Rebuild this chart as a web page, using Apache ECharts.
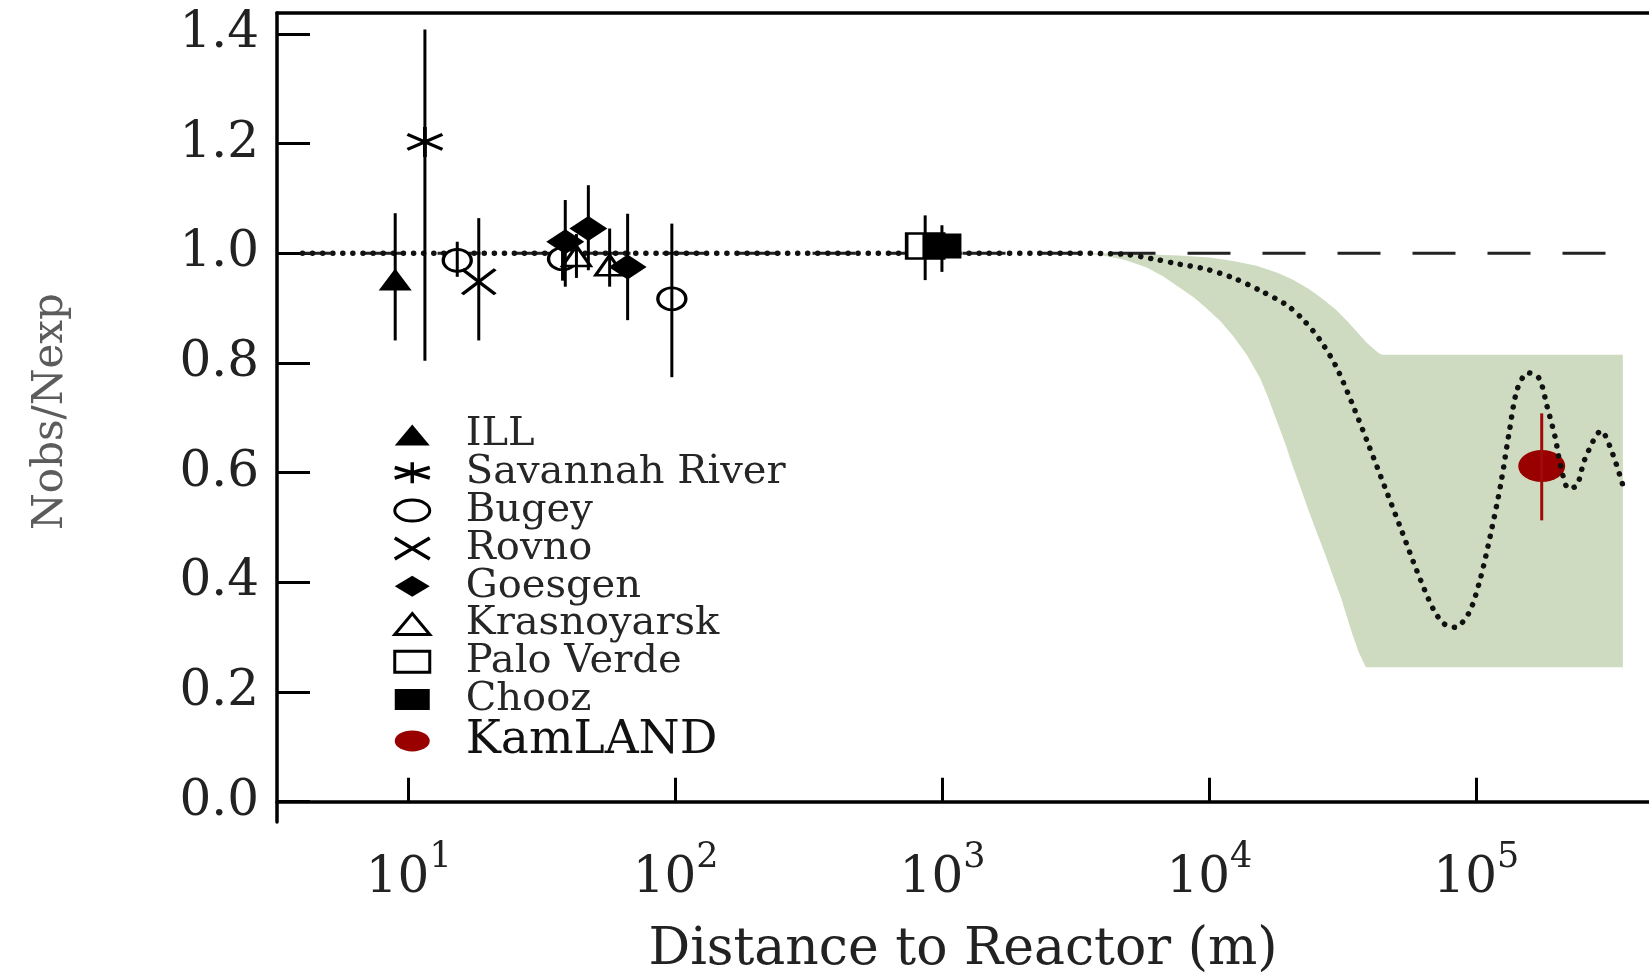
<!DOCTYPE html>
<html><head><meta charset="utf-8">
<script src="https://cdn.jsdelivr.net/npm/echarts@6/dist/echarts.min.js"></script>
<style>html,body{margin:0;padding:0;background:#fff}#c{width:1649px;height:973px}</style>
</head><body><div id="c"></div>
<script>
// ---- tick labels ----
const xTickValues = [10, 100, 1000, 10000, 100000];
const xTickBase = ['10', '10', '10', '10', '10'];
const xTickExp = ['1', '2', '3', '4', '5'];
const yTickValues = [0, 0.2, 0.4, 0.6, 0.8, 1.0, 1.2, 1.4];

// ---- experiments: distance (m), Nobs/Nexp, error low, error high ----
const illDist = [8.9],  illRatio = [0.952], illLo = [0.841], illHi = [1.073];
const srDist = [11.5],  srRatio = [1.203],  srLo = [0.804],  srHi = [1.408];
const bugeyDist = [15.2, 37.7, 96.8], bugeyRatio = [0.987, 0.99, 0.917], bugeyLo = [0.957, 0.95, 0.774], bugeyHi = [1.021, 1.03, 1.054];
const rovnoDist = [18.3], rovnoRatio = [0.948], rovnoLo = [0.841], rovnoHi = [1.064];
const goesgenDist = [38.6, 47.1, 66.1], goesgenRatio = [1.021, 1.045, 0.975], goesgenLo = [0.939, 0.969, 0.878], goesgenHi = [1.097, 1.124, 1.072];
const krasDist = [42.5, 56.6], krasRatio = [0.995, 0.978], krasLo = [0.955, 0.939], krasHi = [1.035, 1.045];
const pvDist = [861], pvRatio = [1.013], pvLo = [0.951], pvHi = [1.069];
const choozDist = [995], choozRatio = [1.013], choozLo = [0.966], choozHi = [1.051];
const kamDist = [175800], kamRatio = [0.612], kamLo = [0.513], kamHi = [0.708];

// ---- no-oscillation reference line ----
const refDist = [4, 308000], refRatio = [1.0, 1.0];

// ---- best-fit oscillation curve (dotted) ----
const curveDist = [4, 1000, 3000, 4800, 6109, 7709, 9727, 12274, 15488, 19543, 22542, 25942, 29785, 34198,
  39446, 45394, 52240, 59979, 69183, 75858, 83176, 93541, 102802, 112720,
  123595, 133045, 142561, 156315, 171791, 184077, 197697, 207014, 221820, 238232,
  255270, 293765, 322107, 353997];
const curveRatio = [1.0, 1.0, 1.0, 0.998, 0.99, 0.98, 0.971, 0.955, 0.932, 0.905, 0.878, 0.842, 0.794, 0.727,
  0.651, 0.574, 0.497, 0.420, 0.35, 0.324, 0.318, 0.343, 0.401, 0.484,
  0.580, 0.676, 0.753, 0.782, 0.772, 0.721, 0.663, 0.612, 0.571, 0.577,
  0.625, 0.676, 0.638, 0.577];

// ---- allowed region band ----
const bandUpperDist = [3390, 5000, 7690, 10000, 12270, 15000, 17860, 20500, 23600, 26500, 29790, 33000, 35950, 39000, 41400, 43000, 44360, 354000];
const bandUpperRatio = [1.0, 0.999, 0.996, 0.992, 0.986, 0.977, 0.965, 0.952, 0.935, 0.917, 0.897, 0.875, 0.855, 0.836, 0.825, 0.818, 0.815, 0.815];
const bandLowerDist = [3390, 3990, 4800, 5820, 6700, 7690, 8700, 9730, 11000, 12270, 13800, 15490, 16600, 17860, 19200, 20510, 22000, 23600, 25300, 27100, 29100, 31260, 32800, 34360, 36300, 38550, 354000];
const bandLowerRatio = [1.0, 0.996, 0.988, 0.974, 0.958, 0.938, 0.92, 0.9, 0.876, 0.849, 0.815, 0.772, 0.737, 0.695, 0.654, 0.612, 0.571, 0.529, 0.49, 0.452, 0.41, 0.369, 0.336, 0.305, 0.272, 0.245, 0.245];

const FONT = 'DejaVu Serif';
const zip = (a, b) => a.map((v, i) => [v, b[i]]);
const zip3 = (a, b, c) => a.map((v, i) => [v, b[i], c[i]]);

function errSeries(dist, lo, hi, color) {
  return {
    type: 'custom', z: 6, silent: true,
    data: zip3(dist, lo, hi),
    encode: { x: 0, y: [1, 2] },
    renderItem: function (params, api) {
      const p1 = api.coord([api.value(0), api.value(1)]);
      const p2 = api.coord([api.value(0), api.value(2)]);
      return { type: 'line', shape: { x1: p1[0], y1: p1[1], x2: p2[0], y2: p2[1] },
        style: { stroke: color, lineWidth: 3 } };
    }
  };
}

const asterisk = 'path://M0,-10L0,10M-10,-5L10,5M-10,5L10,-5';
const cross = 'path://M-10,-10L10,10M-10,10L10,-10';
const ellipse = 'path://M-10,0A10,10,0,1,1,10,0A10,10,0,1,1,-10,0Z';

const filled = { color: '#000', opacity: 1 };
const open = { color: '#fff', borderColor: '#000', borderWidth: 3, opacity: 1 };
const stroked = { color: 'rgba(0,0,0,0)', borderColor: '#000', borderWidth: 3.5, opacity: 1 };
const kamStyle = { color: '#990000', opacity: 1 };

function scatter(name, dist, ratio, symbol, size, style, z) {
  return { name: name, type: 'scatter', z: z || 5, symbol: symbol, symbolSize: size,
    symbolKeepAspect: false, data: zip(dist, ratio), itemStyle: style, silent: true };
}

const xMin = 3.21, xMax = 443600;

const chart = echarts.init(document.getElementById('c'), null, { renderer: 'canvas' });
chart.setOption({
  animation: false,
  backgroundColor: '#fff',
  grid: { left: 277, right: 0, top: 13, bottom: 151, containLabel: false, outerBoundsMode: 'none' },
  xAxis: [{
    type: 'log', min: xMin, max: xMax,
    name: 'Distance to Reactor (m)', nameLocation: 'middle', nameGap: 102,
    nameTextStyle: { fontFamily: FONT, fontSize: 52, color: '#222' },
    axisLine: { lineStyle: { color: '#000', width: 3.5 } },
    axisTick: { inside: true, length: 24, lineStyle: { color: '#000', width: 3 }, customValues: xTickValues },
    axisLabel: {
      customValues: xTickValues, margin: 18,
      formatter: function (v) {
        const i = xTickValues.findIndex(t => Math.abs(t - v) / t < 1e-6);
        if (i < 0) return '';
        return '{b|' + xTickBase[i] + '}{s|' + xTickExp[i] + '}';
      },
      rich: {
        b: { fontFamily: FONT, fontSize: 50, lineHeight: 78, color: '#222' },
        s: { fontFamily: FONT, fontSize: 35, lineHeight: 34, verticalAlign: 'top', color: '#222' }
      }
    },
    splitLine: { show: false }, minorTick: { show: false }
  }, {
    type: 'log', min: xMin, max: xMax, position: 'top',
    axisLine: { lineStyle: { color: '#000', width: 3.5 } },
    axisTick: { show: false }, axisLabel: { show: false }, splitLine: { show: false }
  }],
  yAxis: {
    type: 'value', min: -0.037, max: 1.438,
    name: 'Nobs/Nexp', nameLocation: 'middle', nameGap: 205, nameRotate: 90,
    nameTextStyle: { fontFamily: FONT, fontSize: 42, color: '#5c5c5c', padding: [0, 0, 0, 12] },
    axisLine: { lineStyle: { color: '#000', width: 3.5 } },
    axisTick: { inside: true, length: 33, lineStyle: { color: '#000', width: 3 }, customValues: yTickValues },
    axisLabel: {
      customValues: yTickValues, margin: 18,
      formatter: v => v.toFixed(1),
      fontFamily: FONT, fontSize: 50, color: '#222', padding: [0, 0, 8, 0]
    },
    splitLine: { show: false }
  },
  legend: {
    orient: 'vertical', left: 388, top: 410,
    itemWidth: 35, itemHeight: 21, itemGap: -2.2,
    symbolKeepAspect: false,
    selectedMode: false,
    textStyle: { fontFamily: FONT, fontSize: 40, lineHeight: 37, color: '#262626', padding: [0, 0, 0, 31],
      rich: { k: { fontFamily: FONT, fontSize: 47, lineHeight: 44, color: '#111' } } },
    formatter: n => n === 'KamLAND' ? '{k|KamLAND}' : n,
    data: [
      { name: 'ILL', itemStyle: filled },
      { name: 'Savannah River', itemStyle: stroked },
      { name: 'Bugey', itemStyle: open },
      { name: 'Rovno', itemStyle: stroked },
      { name: 'Goesgen', itemStyle: filled },
      { name: 'Krasnoyarsk', itemStyle: open },
      { name: 'Palo Verde', itemStyle: open },
      { name: 'Chooz', itemStyle: filled },
      { name: 'KamLAND', itemStyle: kamStyle }
    ]
  },
  series: [
    {
      type: 'custom', z: 1, silent: true,
      data: [[bandUpperDist[0], bandUpperRatio[0]]],
      encode: { x: 0, y: 1 },
      renderItem: function (params, api) {
        if (params.dataIndex !== 0) return null;
        const pts = [];
        for (let i = 0; i < bandUpperDist.length; i++) pts.push(api.coord([bandUpperDist[i], bandUpperRatio[i]]));
        for (let i = bandLowerDist.length - 1; i >= 0; i--) pts.push(api.coord([bandLowerDist[i], bandLowerRatio[i]]));
        return { type: 'polygon', shape: { points: pts }, style: { fill: '#cedbc0' } };
      }
    },
    {
      type: 'line', z: 2, silent: true, symbol: 'none',
      data: zip(refDist, refRatio),
      lineStyle: { color: '#222', width: 3, type: [43, 32], dashOffset: 15 }
    },
    scatter('KamLAND', kamDist, kamRatio, ellipse, [47, 32], kamStyle, 3),
    {
      type: 'line', z: 4, silent: true, symbol: 'none', smooth: 0.3,
      data: zip(curveDist, curveRatio),
      lineStyle: { color: '#111', width: 5.5, type: [0.1, 10], cap: 'round' }
    },
    scatter('ILL', illDist, illRatio, 'triangle', [33, 22], filled),
    scatter('Savannah River', srDist, srRatio, asterisk, [35, 30], stroked),
    scatter('Bugey', bugeyDist, bugeyRatio, ellipse, [28, 22], open),
    scatter('Rovno', rovnoDist, rovnoRatio, cross, [33, 25], stroked),
    scatter('Krasnoyarsk', krasDist, krasRatio, 'triangle', [28, 20], open),
    scatter('Goesgen', goesgenDist, goesgenRatio, 'diamond', [38, 25], filled),
    scatter('Palo Verde', pvDist, pvRatio, 'rect', [37, 25], open),
    scatter('Chooz', choozDist, choozRatio, 'rect', [39, 25], filled),
    errSeries(illDist, illLo, illHi, '#000'),
    errSeries(srDist, srLo, srHi, '#000'),
    errSeries(bugeyDist, bugeyLo, bugeyHi, '#000'),
    errSeries(rovnoDist, rovnoLo, rovnoHi, '#000'),
    errSeries(goesgenDist, goesgenLo, goesgenHi, '#000'),
    errSeries(krasDist, krasLo, krasHi, '#000'),
    errSeries(pvDist, pvLo, pvHi, '#000'),
    errSeries(choozDist, choozLo, choozHi, '#000'),
    errSeries(kamDist, kamLo, kamHi, '#a00a0a')
  ]
});
</script></body></html>
